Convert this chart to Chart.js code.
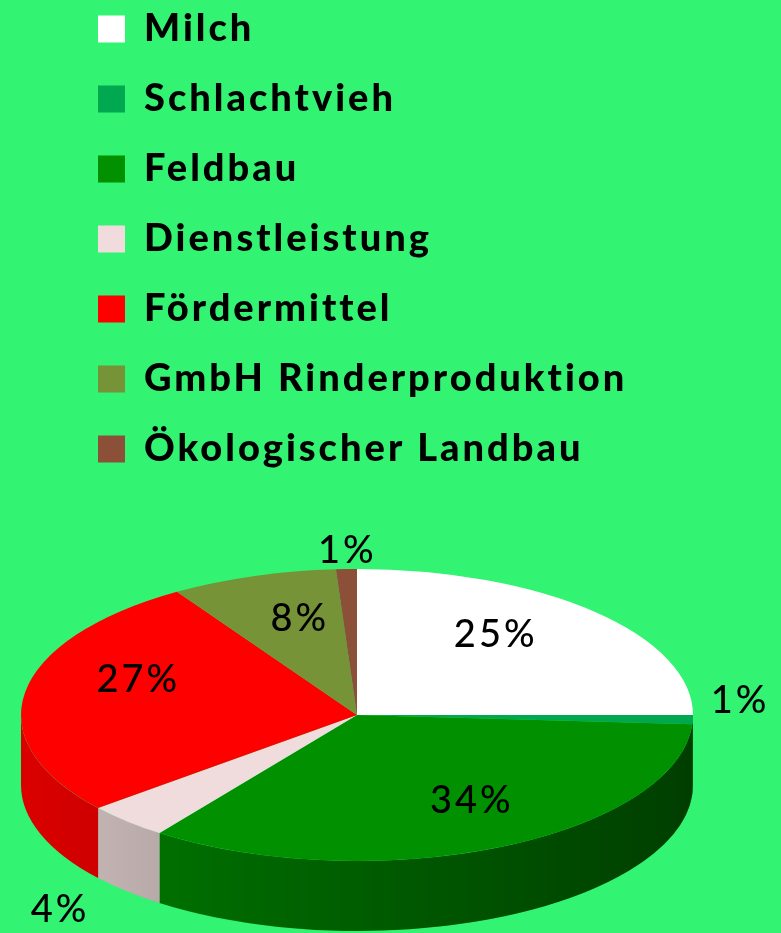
<!DOCTYPE html>
<html><head><meta charset="utf-8">
<script src="https://cdn.jsdelivr.net/npm/chart.js@4.4.1/dist/chart.umd.min.js"></script>
<style>
html,body{margin:0;padding:0;background:#33f373;}
#wrap{position:relative;width:781px;height:933px;overflow:hidden;background:#33f373;}
#c{position:absolute;left:0;top:-22px;}
</style></head><body>
<div id="wrap"><canvas id="c" width="781" height="955"></canvas></div>
<script>
// ---- data ----
const categories = ['Milch','Schlachtvieh','Feldbau','Dienstleistung','Fördermittel','GmbH Rinderproduktion','Ökologischer Landbau'];
const shares = [25, 1, 34, 4, 27, 8, 1];
const colors = ['#ffffff','#00a850','#009000','#f0dcdc','#ff0000','#779338','#8c5038'];

// ---- layout / style (screen px, canvas coordinates) ----
const PIE = {cx: 357, cy: 737, rx: 336, ry: 146, depth: 70};
const LABEL_FONT = '500 38px Lato';
const SPACING = '3px';

function shade(hex, f) {
  const n = parseInt(hex.slice(1), 16);
  const r = Math.round(((n >> 16) & 255) * f), g = Math.round(((n >> 8) & 255) * f), b = Math.round((n & 255) * f);
  return `rgb(${r},${g},${b})`;
}

const pie3d = {
  id: 'pie3d',
  beforeLayout(chart) { chart.ctx.letterSpacing = SPACING; },
  beforeDraw(chart) { chart.ctx.letterSpacing = SPACING; },
  beforeDatasetsDraw(chart) {
    const arcs = chart.getDatasetMeta(0).data;
    if (!arcs.length) return;
    const {x, y, outerRadius: R} = arcs[0].getProps(['x', 'y', 'outerRadius'], true);
    const sx = PIE.rx / R, sy = PIE.ry / R;
    const ctx = chart.ctx;
    ctx.save();
    ctx.transform(sx, 0, 0, sy, PIE.cx - sx * x, PIE.cy - sy * y);
    const d = PIE.depth / sy;
    arcs.forEach((arc, i) => {
      const p = arc.getProps(['startAngle', 'endAngle'], true);
      const s = Math.max(p.startAngle, 0), e = Math.min(p.endAngle, Math.PI);
      if (e <= s) return;
      ctx.beginPath();
      ctx.arc(x, y, R, s, e);
      ctx.arc(x, y + d, R, e, s, true);
      ctx.closePath();
      ctx.fillStyle = shade(colors[i], 0.86);
      ctx.fill();
    });
    const g = ctx.createLinearGradient(x - R, 0, x + R, 0);
    g.addColorStop(0, 'rgba(0,0,0,0)');
    g.addColorStop(1, 'rgba(0,0,0,0.5)');
    ctx.beginPath();
    ctx.arc(x, y, R, 0, Math.PI);
    ctx.arc(x, y + d, R, Math.PI, 0, true);
    ctx.closePath();
    ctx.fillStyle = g;
    ctx.fill();
  },
  afterDatasetsDraw(chart) {
    const ctx = chart.ctx;
    ctx.restore();
    const arcs = chart.getDatasetMeta(0).data;
    ctx.save();
    ctx.font = LABEL_FONT;
    ctx.letterSpacing = SPACING;
    ctx.fillStyle = '#000';
    ctx.textAlign = 'center';
    ctx.textBaseline = 'middle';
    arcs.forEach((arc, i) => {
      const p = arc.getProps(['startAngle', 'endAngle'], true);
      const m = (p.startAngle + p.endAngle) / 2;
      const c = Math.cos(m), s = Math.sin(m);
      const persp = 1 + 0.2 * s;            // nearer side looks larger
      const outside = shares[i] <= 4;
      const k = (outside ? 1.08 : 0.68) * persp;
      let X = PIE.cx + k * PIE.rx * c;
      let Y = PIE.cy + k * PIE.ry * s - 20;
      if (outside) {
        X += 18 * c;
        Y += 18 * s + (s > 0.5 ? PIE.depth : 0);
      }
      ctx.fillText(shares[i] + '%', X, Y);
    });
    ctx.restore();
  }
};

new Chart(document.getElementById('c'), {
  type: 'pie',
  data: {
    labels: categories,
    datasets: [{data: shares, backgroundColor: colors, borderWidth: 0, clip: false}]
  },
  options: {
    responsive: false,
    animation: false,
    events: [],
    layout: {padding: {left: 66, top: 0}},
    plugins: {
      legend: {
        position: 'left',
        align: 'start',
        maxWidth: 720,
        labels: {
          boxWidth: 27, boxHeight: 27, padding: 32, color: '#000',
          font: {family: 'Lato', size: 38, weight: '900'}
        }
      },
      tooltip: {enabled: false}
    }
  },
  plugins: [pie3d]
});
</script>
</body></html>
